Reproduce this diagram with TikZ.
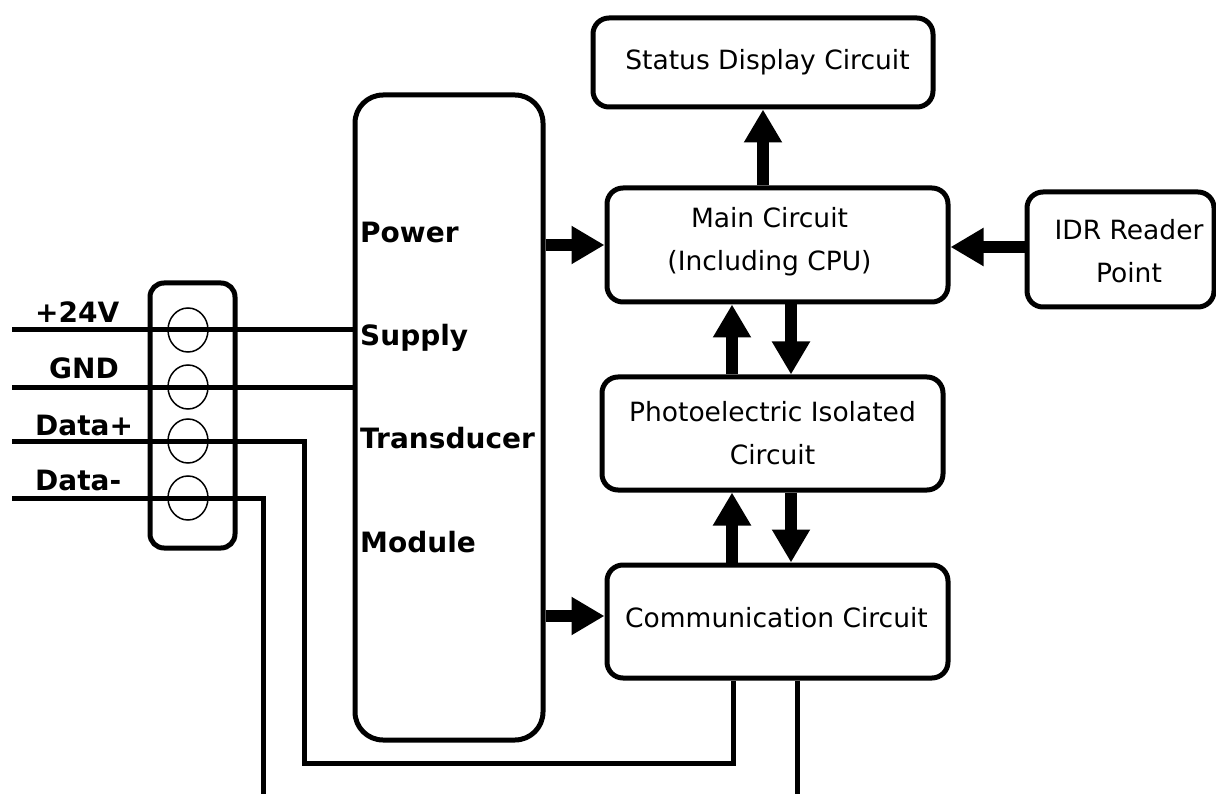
\documentclass[tikz,border=0pt]{standalone}
\usepackage{fontspec}
\setmainfont{DejaVu Sans}
\usetikzlibrary{arrows.meta,shapes.geometric}
\tikzset{
  blk/.style={draw, line width=5pt, rounded corners=16pt, inner sep=0pt, align=center,
    font=\fontsize{26.5}{43}\selectfont},
  txt/.style={inner sep=0pt, align=center, font=\fontsize{26.5}{43}\selectfont},
  wire/.style={line width=5pt},
  bigarrow/.style={line width=12pt, -{Triangle[length=33pt,width=36pt]}},
  lbl/.style={anchor=west, inner sep=0pt, text height=20.4pt, text depth=0pt,
    font=\fontsize{28}{34}\selectfont\bfseries},
  hole/.style={draw, ellipse, line width=1.5pt, minimum width=40pt, minimum height=44pt, inner sep=0pt},
}
\begin{document}
\begin{tikzpicture}[x=1pt,y=-1pt]
\useasboundingbox (0,0) rectangle (1216,794);
% boxes
\node[blk, minimum width=340pt, minimum height=89pt] (status) at (763,62.5) {};
\node[txt] (statustxt) at (767.5,62) {Status Display Circuit};
\node[blk, minimum width=341pt, minimum height=114pt] (main) at (777.5,245) {};
\node[txt] (maintxt) at (769.5,242) {Main Circuit\\(Including CPU)};
\node[blk, minimum width=187pt, minimum height=115pt] (idr) at (1120.5,249.5) {};
\node[txt] (idrtxt) at (1129,251) {IDR Reader\\Point};
\node[blk, minimum width=341pt, minimum height=113pt] (photo) at (772.5,433.5) {Photoelectric Isolated\\Circuit};
\node[blk, minimum width=341pt, minimum height=113pt] (comm) at (777.5,621.5) {};
\node[txt] (commtxt) at (776.5,618) {Communication Circuit};
\node[blk, rounded corners=28pt, minimum width=188pt, minimum height=645pt] (power) at (449,417.5) {};
\node[blk, rounded corners=14pt, minimum width=85pt, minimum height=265pt] (block) at (192.5,415.5) {};
% power labels
\node[lbl] (pw1) at (360,232) {Power};
\node[lbl] (pw2) at (360,335) {Supply};
\node[lbl] (pw3) at (360,438) {Transducer};
\node[lbl] (pw4) at (360,542) {Module};
% connector holes
\node[hole] (h1) at (188,330) {};
\node[hole] (h2) at (188,387) {};
\node[hole] (h3) at (188,441) {};
\node[hole] (h4) at (188,498) {};
% wire labels
\node[lbl] (l1) at (35,312) {+24V};
\node[lbl] (l2) at (49,368) {GND};
\node[lbl] (l3) at (35,425) {Data+};
\node[lbl] (l4) at (35,480) {Data-};
% wire coordinates
\coordinate (w1) at (12,330);
\coordinate (w2) at (12,387);
\coordinate (w3) at (12,441);
\coordinate (w4) at (12,498);
\coordinate (dpx) at (304,763);
\coordinate (dmx) at (263,794);
\coordinate (ca) at (733,763);
\coordinate (cb) at (797,794);
% wires
\draw[wire] (w1) -- (w1 -| power.west);
\draw[wire] (w2) -- (w2 -| power.west);
\draw[wire] (w3) -| (dpx) -| (comm.south -| ca);
\draw[wire] (w4) -| (dmx);
\draw[wire] (comm.south -| cb) -- (cb);
% arrow positions
\coordinate (ax0) at (763,0);
\coordinate (ax1) at (732,0);
\coordinate (ax2) at (791,0);
\coordinate (ay1) at (0,245);
\coordinate (ay2) at (0,616);
\coordinate (ay3) at (0,247);
% arrows
\draw[bigarrow] (main.north -| ax0) -- (status.south -| ax0);
\draw[bigarrow] (power.east |- ay1) -- (main.west |- ay1);
\draw[bigarrow] (power.east |- ay2) -- (comm.west |- ay2);
\draw[bigarrow] (idr.west |- ay3) -- (main.east |- ay3);
\draw[bigarrow] (photo.north -| ax1) -- (main.south -| ax1);
\draw[bigarrow] (main.south -| ax2) -- (photo.north -| ax2);
\draw[bigarrow] (comm.north -| ax1) -- (photo.south -| ax1);
\draw[bigarrow] (photo.south -| ax2) -- (comm.north -| ax2);
\end{tikzpicture}
\end{document}
